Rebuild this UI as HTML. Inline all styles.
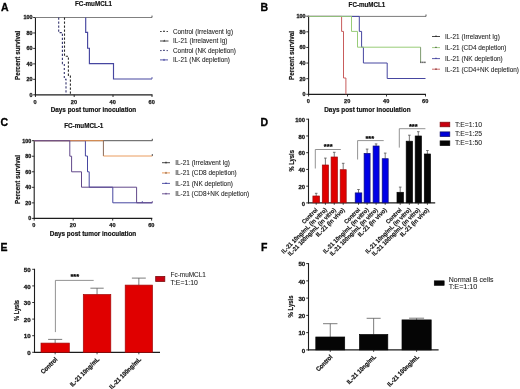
<!DOCTYPE html>
<html><head><meta charset="utf-8"><style>
html,body{margin:0;padding:0;background:#fff;width:520px;height:389px;overflow:hidden}
svg{display:block;filter:blur(0.25px)}
text{font-family:"Liberation Sans", sans-serif}
</style></head><body>
<svg width="520" height="389" viewBox="0 0 520 389">
<rect width="520" height="389" fill="#fff"/>
<text x="1" y="10.8" font-size="10.5" font-weight="bold" text-anchor="start" fill="#000" stroke="#000" stroke-width="0.3">A</text>
<text x="260.6" y="11" font-size="10.5" font-weight="bold" text-anchor="start" fill="#000" stroke="#000" stroke-width="0.3">B</text>
<text x="0.6" y="125.6" font-size="10.5" font-weight="bold" text-anchor="start" fill="#000" stroke="#000" stroke-width="0.3">C</text>
<text x="260.6" y="125.6" font-size="10.5" font-weight="bold" text-anchor="start" fill="#000" stroke="#000" stroke-width="0.3">D</text>
<text x="0.4" y="251.2" font-size="10.5" font-weight="bold" text-anchor="start" fill="#000" stroke="#000" stroke-width="0.3">E</text>
<text x="261" y="251.2" font-size="10.5" font-weight="bold" text-anchor="start" fill="#000" stroke="#000" stroke-width="0.3">F</text>
<line x1="35.45" y1="17.0" x2="35.45" y2="95.4" stroke="#1c1c1c" stroke-width="1.1"/>
<line x1="34.9" y1="94.8" x2="152.5" y2="94.8" stroke="#1c1c1c" stroke-width="1.2"/>
<line x1="33.15" y1="94.8" x2="35.45" y2="94.8" stroke="#1c1c1c" stroke-width="0.9"/>
<text x="32.45" y="96.75" font-size="5.4" font-weight="bold" text-anchor="end" fill="#1a1a1a" stroke="#1a1a1a" stroke-width="0.3">0</text>
<line x1="33.15" y1="79.34" x2="35.45" y2="79.34" stroke="#1c1c1c" stroke-width="0.9"/>
<text x="32.45" y="81.29" font-size="5.4" font-weight="bold" text-anchor="end" fill="#1a1a1a" stroke="#1a1a1a" stroke-width="0.3">20</text>
<line x1="33.15" y1="63.88" x2="35.45" y2="63.88" stroke="#1c1c1c" stroke-width="0.9"/>
<text x="32.45" y="65.83" font-size="5.4" font-weight="bold" text-anchor="end" fill="#1a1a1a" stroke="#1a1a1a" stroke-width="0.3">40</text>
<line x1="33.15" y1="48.42" x2="35.45" y2="48.42" stroke="#1c1c1c" stroke-width="0.9"/>
<text x="32.45" y="50.37" font-size="5.4" font-weight="bold" text-anchor="end" fill="#1a1a1a" stroke="#1a1a1a" stroke-width="0.3">60</text>
<line x1="33.15" y1="32.96" x2="35.45" y2="32.96" stroke="#1c1c1c" stroke-width="0.9"/>
<text x="32.45" y="34.91" font-size="5.4" font-weight="bold" text-anchor="end" fill="#1a1a1a" stroke="#1a1a1a" stroke-width="0.3">80</text>
<line x1="33.15" y1="17.5" x2="35.45" y2="17.5" stroke="#1c1c1c" stroke-width="0.9"/>
<text x="32.45" y="19.45" font-size="5.4" font-weight="bold" text-anchor="end" fill="#1a1a1a" stroke="#1a1a1a" stroke-width="0.3">100</text>
<line x1="35.45" y1="94.8" x2="35.45" y2="97.0" stroke="#1c1c1c" stroke-width="0.9"/>
<text x="35.15" y="103.8" font-size="5.6" font-weight="bold" text-anchor="middle" fill="#1a1a1a" stroke="#1a1a1a" stroke-width="0.25">0</text>
<line x1="74.2" y1="94.8" x2="74.2" y2="97.0" stroke="#1c1c1c" stroke-width="0.9"/>
<text x="73.9" y="103.8" font-size="5.6" font-weight="bold" text-anchor="middle" fill="#1a1a1a" stroke="#1a1a1a" stroke-width="0.25">20</text>
<line x1="113.0" y1="94.8" x2="113.0" y2="97.0" stroke="#1c1c1c" stroke-width="0.9"/>
<text x="112.7" y="103.8" font-size="5.6" font-weight="bold" text-anchor="middle" fill="#1a1a1a" stroke="#1a1a1a" stroke-width="0.25">40</text>
<line x1="152.0" y1="94.8" x2="152.0" y2="97.0" stroke="#1c1c1c" stroke-width="0.9"/>
<text x="151.7" y="103.8" font-size="5.6" font-weight="bold" text-anchor="middle" fill="#1a1a1a" stroke="#1a1a1a" stroke-width="0.25">60</text>
<text x="75" y="6.3" font-size="7" font-weight="bold" text-anchor="start" fill="#111" textLength="37" lengthAdjust="spacingAndGlyphs" stroke="#111" stroke-width="0.18">FC-muMCL1</text>
<text x="93.5" y="111.8" font-size="6.6" font-weight="bold" text-anchor="middle" fill="#111" textLength="85.5" lengthAdjust="spacingAndGlyphs" stroke="#111" stroke-width="0.18">Days post tumor inoculation</text>
<text transform="translate(19.7,55.3) rotate(-90)" font-size="6.6" font-weight="bold" text-anchor="middle" fill="#111" textLength="49.2" lengthAdjust="spacingAndGlyphs" stroke="#111" stroke-width="0.18">Percent survival</text>
<line x1="308.6" y1="15.7" x2="308.6" y2="94.9" stroke="#1c1c1c" stroke-width="1.1"/>
<line x1="308.05" y1="94.3" x2="426" y2="94.3" stroke="#1c1c1c" stroke-width="1.2"/>
<line x1="306.3" y1="94.3" x2="308.6" y2="94.3" stroke="#1c1c1c" stroke-width="0.9"/>
<text x="305.6" y="96.25" font-size="5.4" font-weight="bold" text-anchor="end" fill="#1a1a1a" stroke="#1a1a1a" stroke-width="0.3">0</text>
<line x1="306.3" y1="78.68" x2="308.6" y2="78.68" stroke="#1c1c1c" stroke-width="0.9"/>
<text x="305.6" y="80.63" font-size="5.4" font-weight="bold" text-anchor="end" fill="#1a1a1a" stroke="#1a1a1a" stroke-width="0.3">20</text>
<line x1="306.3" y1="63.06" x2="308.6" y2="63.06" stroke="#1c1c1c" stroke-width="0.9"/>
<text x="305.6" y="65.01" font-size="5.4" font-weight="bold" text-anchor="end" fill="#1a1a1a" stroke="#1a1a1a" stroke-width="0.3">40</text>
<line x1="306.3" y1="47.44" x2="308.6" y2="47.44" stroke="#1c1c1c" stroke-width="0.9"/>
<text x="305.6" y="49.39" font-size="5.4" font-weight="bold" text-anchor="end" fill="#1a1a1a" stroke="#1a1a1a" stroke-width="0.3">60</text>
<line x1="306.3" y1="31.82" x2="308.6" y2="31.82" stroke="#1c1c1c" stroke-width="0.9"/>
<text x="305.6" y="33.77" font-size="5.4" font-weight="bold" text-anchor="end" fill="#1a1a1a" stroke="#1a1a1a" stroke-width="0.3">80</text>
<line x1="306.3" y1="16.2" x2="308.6" y2="16.2" stroke="#1c1c1c" stroke-width="0.9"/>
<text x="305.6" y="18.15" font-size="5.4" font-weight="bold" text-anchor="end" fill="#1a1a1a" stroke="#1a1a1a" stroke-width="0.3">100</text>
<line x1="308.6" y1="94.3" x2="308.6" y2="96.5" stroke="#1c1c1c" stroke-width="0.9"/>
<text x="308.3" y="103.3" font-size="5.6" font-weight="bold" text-anchor="middle" fill="#1a1a1a" stroke="#1a1a1a" stroke-width="0.25">0</text>
<line x1="347.5" y1="94.3" x2="347.5" y2="96.5" stroke="#1c1c1c" stroke-width="0.9"/>
<text x="347.2" y="103.3" font-size="5.6" font-weight="bold" text-anchor="middle" fill="#1a1a1a" stroke="#1a1a1a" stroke-width="0.25">20</text>
<line x1="386.5" y1="94.3" x2="386.5" y2="96.5" stroke="#1c1c1c" stroke-width="0.9"/>
<text x="386.2" y="103.3" font-size="5.6" font-weight="bold" text-anchor="middle" fill="#1a1a1a" stroke="#1a1a1a" stroke-width="0.25">40</text>
<line x1="425.5" y1="94.3" x2="425.5" y2="96.5" stroke="#1c1c1c" stroke-width="0.9"/>
<text x="425.2" y="103.3" font-size="5.6" font-weight="bold" text-anchor="middle" fill="#1a1a1a" stroke="#1a1a1a" stroke-width="0.25">60</text>
<text x="348.6" y="6.8" font-size="7" font-weight="bold" text-anchor="start" fill="#111" textLength="36.6" lengthAdjust="spacingAndGlyphs" stroke="#111" stroke-width="0.18">FC-muMCL1</text>
<text x="367.4" y="111.8" font-size="6.6" font-weight="bold" text-anchor="middle" fill="#111" textLength="86.3" lengthAdjust="spacingAndGlyphs" stroke="#111" stroke-width="0.18">Days post tumor inoculation</text>
<text transform="translate(294.0,55.5) rotate(-90)" font-size="6.6" font-weight="bold" text-anchor="middle" fill="#111" textLength="49.2" lengthAdjust="spacingAndGlyphs" stroke="#111" stroke-width="0.18">Percent survival</text>
<line x1="34.2" y1="140.2" x2="34.2" y2="219.0" stroke="#1c1c1c" stroke-width="1.1"/>
<line x1="33.65" y1="218.4" x2="152.3" y2="218.4" stroke="#1c1c1c" stroke-width="1.2"/>
<line x1="31.9" y1="218.4" x2="34.2" y2="218.4" stroke="#1c1c1c" stroke-width="0.9"/>
<text x="31.2" y="220.35" font-size="5.4" font-weight="bold" text-anchor="end" fill="#1a1a1a" stroke="#1a1a1a" stroke-width="0.3">0</text>
<line x1="31.9" y1="202.86" x2="34.2" y2="202.86" stroke="#1c1c1c" stroke-width="0.9"/>
<text x="31.2" y="204.81" font-size="5.4" font-weight="bold" text-anchor="end" fill="#1a1a1a" stroke="#1a1a1a" stroke-width="0.3">20</text>
<line x1="31.9" y1="187.32" x2="34.2" y2="187.32" stroke="#1c1c1c" stroke-width="0.9"/>
<text x="31.2" y="189.27" font-size="5.4" font-weight="bold" text-anchor="end" fill="#1a1a1a" stroke="#1a1a1a" stroke-width="0.3">40</text>
<line x1="31.9" y1="171.78" x2="34.2" y2="171.78" stroke="#1c1c1c" stroke-width="0.9"/>
<text x="31.2" y="173.73" font-size="5.4" font-weight="bold" text-anchor="end" fill="#1a1a1a" stroke="#1a1a1a" stroke-width="0.3">60</text>
<line x1="31.9" y1="156.24" x2="34.2" y2="156.24" stroke="#1c1c1c" stroke-width="0.9"/>
<text x="31.2" y="158.19" font-size="5.4" font-weight="bold" text-anchor="end" fill="#1a1a1a" stroke="#1a1a1a" stroke-width="0.3">80</text>
<line x1="31.9" y1="140.7" x2="34.2" y2="140.7" stroke="#1c1c1c" stroke-width="0.9"/>
<text x="31.2" y="142.65" font-size="5.4" font-weight="bold" text-anchor="end" fill="#1a1a1a" stroke="#1a1a1a" stroke-width="0.3">100</text>
<line x1="34.2" y1="218.4" x2="34.2" y2="220.6" stroke="#1c1c1c" stroke-width="0.9"/>
<text x="33.9" y="227.4" font-size="5.6" font-weight="bold" text-anchor="middle" fill="#1a1a1a" stroke="#1a1a1a" stroke-width="0.25">0</text>
<line x1="73.2" y1="218.4" x2="73.2" y2="220.6" stroke="#1c1c1c" stroke-width="0.9"/>
<text x="72.9" y="227.4" font-size="5.6" font-weight="bold" text-anchor="middle" fill="#1a1a1a" stroke="#1a1a1a" stroke-width="0.25">20</text>
<line x1="112.7" y1="218.4" x2="112.7" y2="220.6" stroke="#1c1c1c" stroke-width="0.9"/>
<text x="112.4" y="227.4" font-size="5.6" font-weight="bold" text-anchor="middle" fill="#1a1a1a" stroke="#1a1a1a" stroke-width="0.25">40</text>
<line x1="151.6" y1="218.4" x2="151.6" y2="220.6" stroke="#1c1c1c" stroke-width="0.9"/>
<text x="151.3" y="227.4" font-size="5.6" font-weight="bold" text-anchor="middle" fill="#1a1a1a" stroke="#1a1a1a" stroke-width="0.25">60</text>
<text x="64.2" y="128.3" font-size="7" font-weight="bold" text-anchor="start" fill="#111" textLength="39.2" lengthAdjust="spacingAndGlyphs" stroke="#111" stroke-width="0.18">FC-muMCL-1</text>
<text x="93" y="235.8" font-size="6.6" font-weight="bold" text-anchor="middle" fill="#111" textLength="86.5" lengthAdjust="spacingAndGlyphs" stroke="#111" stroke-width="0.18">Days post tumor inoculation</text>
<text transform="translate(19.8,179.5) rotate(-90)" font-size="6.6" font-weight="bold" text-anchor="middle" fill="#111" textLength="49.2" lengthAdjust="spacingAndGlyphs" stroke="#111" stroke-width="0.18">Percent survival</text>
<path d="M35.2,17.5 H152" fill="none" stroke="#808080" stroke-width="1"/>
<path d="M152,17.5 V15.6" fill="none" stroke="#444" stroke-width="0.9"/>
<path d="M35.2,94.7" fill="none" stroke="#5a5a5a" stroke-width="1"/>
<path d="M58.7,17.5 V32.6 H62.4 V63.6 H64.3 V79.2 H66 V94.7" fill="none" stroke="#34346e" stroke-width="1.1" stroke-dasharray="2.2,1.8"/>
<path d="M64.5,17.5 V56.2 H68.4 V75.4 H70.4 V94.7" fill="none" stroke="#2a2a2a" stroke-width="1.1" stroke-dasharray="2.2,1.8"/>
<path d="M85.7,17.5 V32.3 H87.6 V48.2 H89.4 V63.6 H113.5 V79 H152" fill="none" stroke="#4646a0" stroke-width="1.15"/>
<path d="M152,79 V77" fill="none" stroke="#4646a0" stroke-width="0.8"/>
<path d="M308.6,16.4 H426" fill="none" stroke="#7a7a7a" stroke-width="1"/>
<path d="M426,16.4 V14.5" fill="none" stroke="#444" stroke-width="0.9"/>
<path d="M308.6,16.4 H341.6 V31.4 H343.5 V78 H345.9 V94.3" fill="none" stroke="#c85c5c" stroke-width="1"/>
<path d="M308.6,16.4 H359.3 V31.4 H361.6 V47.2 H363.4 V63 H387.2 V78.5 H425.5" fill="none" stroke="#4646a0" stroke-width="1"/>
<path d="M308.6,16.4 H351.5 V31.4 H357.5 V47.2 H420.6" fill="none" stroke="#98cc78" stroke-width="1"/>
<path d="M420.6,47.2 V62.2" fill="none" stroke="#6f8f60" stroke-width="0.9"/>
<rect x="420.3" y="61.6" width="1.2" height="1.5" fill="#333"/>
<rect x="422.3" y="61.6" width="1.2" height="1.5" fill="#333"/>
<rect x="424.3" y="61.6" width="1.2" height="1.5" fill="#333"/>
<path d="M34.2,140.7 H152.3" fill="none" stroke="#555" stroke-width="1"/>
<path d="M152.3,140.7 V138.8" fill="none" stroke="#333" stroke-width="0.9"/>
<path d="M34.2,140.7 H85.4 V156 H87.5 V171.8 H89.2 V187.2 H112.8 V202.8 H152.3" fill="none" stroke="#4646a0" stroke-width="1"/>
<path d="M142.3,202.8 V201" fill="none" stroke="#4646a0" stroke-width="0.8"/>
<path d="M34.2,140.7 H103.4" fill="none" stroke="#e8914c" stroke-width="1"/>
<path d="M103.4,140.7 V156" fill="none" stroke="#8a6a58" stroke-width="1"/>
<path d="M103.4,156 H152.3" fill="none" stroke="#e8914c" stroke-width="0.9"/>
<path d="M152.3,156 V154" fill="none" stroke="#444" stroke-width="0.9"/>
<path d="M34.2,140.7 H69.8 V156.2 H71.6 V171.8 H81.5 V187.2 H136.6 V202.8 H152.3" fill="none" stroke="#62488a" stroke-width="1"/>
<path d="M152.3,202.8 V201" fill="none" stroke="#62488a" stroke-width="0.8"/>
<path d="M160,31.5 H161.7 M166.5,31.5 H168" fill="none" stroke="#333" stroke-width="0.9"/>
<path d="M162.9,32.0 L164.0,30.1 L165.1,32.0 Z" fill="#333"/>
<text x="173" y="33.8" font-size="6.6" text-anchor="start" fill="#222" textLength="60" lengthAdjust="spacingAndGlyphs" stroke="#222" stroke-width="0.07">Control (Irrelavent Ig)</text>
<path d="M160,41.0 H168.5" fill="none" stroke="#333" stroke-width="0.9"/>
<path d="M163.15,41.5 L164.25,39.6 L165.35,41.5 Z" fill="#333"/>
<text x="173" y="43.3" font-size="6.6" text-anchor="start" fill="#222" textLength="54.5" lengthAdjust="spacingAndGlyphs" stroke="#222" stroke-width="0.07">IL-21 (Irrelavent Ig)</text>
<path d="M160,50.6 H161.7 M166.5,50.6 H168" fill="none" stroke="#34346e" stroke-width="0.9"/>
<path d="M162.9,51.1 L164.0,49.2 L165.1,51.1 Z" fill="#34346e"/>
<text x="173" y="52.9" font-size="6.6" text-anchor="start" fill="#222" textLength="63" lengthAdjust="spacingAndGlyphs" stroke="#222" stroke-width="0.07">Control (NK depletion)</text>
<path d="M160,59.9 H168" fill="none" stroke="#4646a0" stroke-width="0.9"/>
<path d="M162.9,60.4 L164.0,58.5 L165.1,60.4 Z" fill="#4646a0"/>
<text x="173" y="62.2" font-size="6.6" text-anchor="start" fill="#222" textLength="57" lengthAdjust="spacingAndGlyphs" stroke="#222" stroke-width="0.07">IL-21 (NK depletion)</text>
<path d="M432,36.5 H440" fill="none" stroke="#333" stroke-width="0.9"/>
<path d="M434.9,37.0 L436.0,35.1 L437.1,37.0 Z" fill="#333"/>
<text x="445" y="38.8" font-size="6.6" text-anchor="start" fill="#222" textLength="54.8" lengthAdjust="spacingAndGlyphs" stroke="#222" stroke-width="0.07">IL-21 (Irrelavent Ig)</text>
<path d="M432,47.6 H440" fill="none" stroke="#98cc78" stroke-width="0.9"/>
<path d="M434.9,48.1 L436.0,46.2 L437.1,48.1 Z" fill="#5a6a50"/>
<text x="445" y="49.9" font-size="6.6" text-anchor="start" fill="#222" textLength="61.5" lengthAdjust="spacingAndGlyphs" stroke="#222" stroke-width="0.07">IL-21 (CD4 depletion)</text>
<path d="M432,58.6 H440" fill="none" stroke="#4646a0" stroke-width="0.9"/>
<path d="M434.9,59.1 L436.0,57.2 L437.1,59.1 Z" fill="#4646a0"/>
<text x="445" y="60.9" font-size="6.6" text-anchor="start" fill="#222" textLength="57.7" lengthAdjust="spacingAndGlyphs" stroke="#222" stroke-width="0.07">IL-21 (NK depletion)</text>
<path d="M432,69.2 H440" fill="none" stroke="#c85c5c" stroke-width="0.9"/>
<path d="M434.9,69.7 L436.0,67.8 L437.1,69.7 Z" fill="#8a3a3a"/>
<text x="445" y="71.5" font-size="6.6" text-anchor="start" fill="#222" textLength="74" lengthAdjust="spacingAndGlyphs" stroke="#222" stroke-width="0.07">IL-21 (CD4+NK depletion)</text>
<path d="M162,162.7 H170" fill="none" stroke="#333" stroke-width="0.9"/>
<path d="M164.9,163.2 L166.0,161.3 L167.1,163.2 Z" fill="#333"/>
<text x="175.2" y="165.0" font-size="6.6" text-anchor="start" fill="#222" textLength="54.8" lengthAdjust="spacingAndGlyphs" stroke="#222" stroke-width="0.07">IL-21 (Irrelavent Ig)</text>
<path d="M162,172.9 H170" fill="none" stroke="#e8914c" stroke-width="0.9"/>
<path d="M164.9,173.4 L166.0,171.5 L167.1,173.4 Z" fill="#8a6040"/>
<text x="175.2" y="175.2" font-size="6.6" text-anchor="start" fill="#222" textLength="61.5" lengthAdjust="spacingAndGlyphs" stroke="#222" stroke-width="0.07">IL-21 (CD8 depletion)</text>
<path d="M162,183.4 H170" fill="none" stroke="#4646a0" stroke-width="0.9"/>
<path d="M164.9,183.9 L166.0,182.0 L167.1,183.9 Z" fill="#4646a0"/>
<text x="175.2" y="185.7" font-size="6.6" text-anchor="start" fill="#222" textLength="57.7" lengthAdjust="spacingAndGlyphs" stroke="#222" stroke-width="0.07">IL-21 (NK depletion)</text>
<path d="M162,193.8 H170" fill="none" stroke="#62488a" stroke-width="0.9"/>
<path d="M164.9,194.3 L166.0,192.4 L167.1,194.3 Z" fill="#62488a"/>
<text x="175.2" y="196.1" font-size="6.6" text-anchor="start" fill="#222" textLength="74" lengthAdjust="spacingAndGlyphs" stroke="#222" stroke-width="0.07">IL-21 (CD8+NK depletion)</text>
<line x1="308.5" y1="118.7" x2="308.5" y2="203.5" stroke="#1c1c1c" stroke-width="1.1"/>
<line x1="307.95" y1="202.9" x2="435.2" y2="202.9" stroke="#1c1c1c" stroke-width="1.3"/>
<line x1="306.2" y1="202.9" x2="308.5" y2="202.9" stroke="#1c1c1c" stroke-width="0.9"/>
<text x="305.0" y="205.52" font-size="5.9" font-weight="bold" text-anchor="end" fill="#1a1a1a" stroke="#1a1a1a" stroke-width="0.3">0</text>
<line x1="306.2" y1="186.16" x2="308.5" y2="186.16" stroke="#1c1c1c" stroke-width="0.9"/>
<text x="305.0" y="188.78" font-size="5.9" font-weight="bold" text-anchor="end" fill="#1a1a1a" stroke="#1a1a1a" stroke-width="0.3">20</text>
<line x1="306.2" y1="169.42" x2="308.5" y2="169.42" stroke="#1c1c1c" stroke-width="0.9"/>
<text x="305.0" y="172.04" font-size="5.9" font-weight="bold" text-anchor="end" fill="#1a1a1a" stroke="#1a1a1a" stroke-width="0.3">40</text>
<line x1="306.2" y1="152.68" x2="308.5" y2="152.68" stroke="#1c1c1c" stroke-width="0.9"/>
<text x="305.0" y="155.3" font-size="5.9" font-weight="bold" text-anchor="end" fill="#1a1a1a" stroke="#1a1a1a" stroke-width="0.3">60</text>
<line x1="306.2" y1="135.94" x2="308.5" y2="135.94" stroke="#1c1c1c" stroke-width="0.9"/>
<text x="305.0" y="138.56" font-size="5.9" font-weight="bold" text-anchor="end" fill="#1a1a1a" stroke="#1a1a1a" stroke-width="0.3">80</text>
<line x1="306.2" y1="119.2" x2="308.5" y2="119.2" stroke="#1c1c1c" stroke-width="0.9"/>
<text x="305.0" y="121.82" font-size="5.9" font-weight="bold" text-anchor="end" fill="#1a1a1a" stroke="#1a1a1a" stroke-width="0.3">100</text>
<text transform="translate(294.0,160.8) rotate(-90)" font-size="6.6" font-weight="bold" text-anchor="middle" fill="#111" textLength="21.6" lengthAdjust="spacingAndGlyphs" stroke="#111" stroke-width="0.18">% Lysis</text>
<line x1="316.2" y1="196" x2="316.2" y2="193.3" stroke="#555" stroke-width="0.8"/>
<line x1="314.9" y1="193.3" x2="317.5" y2="193.3" stroke="#555" stroke-width="0.8"/>
<rect x="312.9" y="196" width="6.6" height="6.8" fill="#e00000" stroke="#9a0c0c" stroke-width="0.7"/>
<line x1="316.2" y1="202.8" x2="316.2" y2="204.8" stroke="#1c1c1c" stroke-width="0.8"/>
<text transform="translate(318.2,210.3) rotate(-45)" font-size="6.2" font-weight="bold" text-anchor="end" fill="#111" textLength="19.8" lengthAdjust="spacingAndGlyphs" stroke="#111" stroke-width="0.14">Control</text>
<line x1="325.4" y1="165" x2="325.4" y2="158.1" stroke="#555" stroke-width="0.8"/>
<line x1="324.1" y1="158.1" x2="326.7" y2="158.1" stroke="#555" stroke-width="0.8"/>
<rect x="322.3" y="165" width="6.2" height="37.8" fill="#e00000" stroke="#9a0c0c" stroke-width="0.7"/>
<line x1="325.4" y1="202.8" x2="325.4" y2="204.8" stroke="#1c1c1c" stroke-width="0.8"/>
<text transform="translate(327.4,210.3) rotate(-45)" font-size="6.2" font-weight="bold" text-anchor="end" fill="#111" textLength="61.7" lengthAdjust="spacingAndGlyphs" stroke="#111" stroke-width="0.14">IL-21 10ng/mL (in vitro)</text>
<line x1="334.25" y1="157" x2="334.25" y2="152.3" stroke="#555" stroke-width="0.8"/>
<line x1="332.95" y1="152.3" x2="335.55" y2="152.3" stroke="#555" stroke-width="0.8"/>
<rect x="331.1" y="157" width="6.3" height="45.8" fill="#e00000" stroke="#9a0c0c" stroke-width="0.7"/>
<line x1="334.25" y1="202.8" x2="334.25" y2="204.8" stroke="#1c1c1c" stroke-width="0.8"/>
<text transform="translate(336.25,210.3) rotate(-45)" font-size="6.2" font-weight="bold" text-anchor="end" fill="#111" textLength="65.0" lengthAdjust="spacingAndGlyphs" stroke="#111" stroke-width="0.14">IL-21 100ng/mL (in vitro)</text>
<line x1="343.2" y1="169.7" x2="343.2" y2="163.3" stroke="#555" stroke-width="0.8"/>
<line x1="341.9" y1="163.3" x2="344.5" y2="163.3" stroke="#555" stroke-width="0.8"/>
<rect x="340.2" y="169.7" width="6.0" height="33.1" fill="#e00000" stroke="#9a0c0c" stroke-width="0.7"/>
<line x1="343.2" y1="202.8" x2="343.2" y2="204.8" stroke="#1c1c1c" stroke-width="0.8"/>
<text transform="translate(345.2,210.3) rotate(-45)" font-size="6.2" font-weight="bold" text-anchor="end" fill="#111" textLength="38.0" lengthAdjust="spacingAndGlyphs" stroke="#111" stroke-width="0.14">IL-21 (in vivo)</text>
<line x1="358.5" y1="192.9" x2="358.5" y2="189.5" stroke="#555" stroke-width="0.8"/>
<line x1="357.2" y1="189.5" x2="359.8" y2="189.5" stroke="#555" stroke-width="0.8"/>
<rect x="355.2" y="192.9" width="6.6" height="9.9" fill="#0000e6" stroke="#101070" stroke-width="0.7"/>
<line x1="358.5" y1="202.8" x2="358.5" y2="204.8" stroke="#1c1c1c" stroke-width="0.8"/>
<text transform="translate(360.5,210.3) rotate(-45)" font-size="6.2" font-weight="bold" text-anchor="end" fill="#111" textLength="19.8" lengthAdjust="spacingAndGlyphs" stroke="#111" stroke-width="0.14">Control</text>
<line x1="367.1" y1="153.4" x2="367.1" y2="149.1" stroke="#555" stroke-width="0.8"/>
<line x1="365.8" y1="149.1" x2="368.4" y2="149.1" stroke="#555" stroke-width="0.8"/>
<rect x="364.1" y="153.4" width="6.0" height="49.4" fill="#0000e6" stroke="#101070" stroke-width="0.7"/>
<line x1="367.1" y1="202.8" x2="367.1" y2="204.8" stroke="#1c1c1c" stroke-width="0.8"/>
<text transform="translate(369.1,210.3) rotate(-45)" font-size="6.2" font-weight="bold" text-anchor="end" fill="#111" textLength="61.7" lengthAdjust="spacingAndGlyphs" stroke="#111" stroke-width="0.14">IL-21 10ng/mL (in vitro)</text>
<line x1="376.1" y1="146" x2="376.1" y2="143.9" stroke="#555" stroke-width="0.8"/>
<line x1="374.8" y1="143.9" x2="377.4" y2="143.9" stroke="#555" stroke-width="0.8"/>
<rect x="373.1" y="146" width="6.0" height="56.8" fill="#0000e6" stroke="#101070" stroke-width="0.7"/>
<line x1="376.1" y1="202.8" x2="376.1" y2="204.8" stroke="#1c1c1c" stroke-width="0.8"/>
<text transform="translate(378.1,210.3) rotate(-45)" font-size="6.2" font-weight="bold" text-anchor="end" fill="#111" textLength="65.0" lengthAdjust="spacingAndGlyphs" stroke="#111" stroke-width="0.14">IL-21 100ng/mL (in vitro)</text>
<line x1="385.2" y1="158.7" x2="385.2" y2="153.1" stroke="#555" stroke-width="0.8"/>
<line x1="383.9" y1="153.1" x2="386.5" y2="153.1" stroke="#555" stroke-width="0.8"/>
<rect x="382.2" y="158.7" width="6.0" height="44.1" fill="#0000e6" stroke="#101070" stroke-width="0.7"/>
<line x1="385.2" y1="202.8" x2="385.2" y2="204.8" stroke="#1c1c1c" stroke-width="0.8"/>
<text transform="translate(387.2,210.3) rotate(-45)" font-size="6.2" font-weight="bold" text-anchor="end" fill="#111" textLength="38.0" lengthAdjust="spacingAndGlyphs" stroke="#111" stroke-width="0.14">IL-21 (in vivo)</text>
<line x1="400.2" y1="192.3" x2="400.2" y2="187.1" stroke="#555" stroke-width="0.8"/>
<line x1="398.9" y1="187.1" x2="401.5" y2="187.1" stroke="#555" stroke-width="0.8"/>
<rect x="397" y="192.3" width="6.4" height="10.5" fill="#050505" stroke="#050505" stroke-width="0.7"/>
<line x1="400.2" y1="202.8" x2="400.2" y2="204.8" stroke="#1c1c1c" stroke-width="0.8"/>
<text transform="translate(402.2,210.3) rotate(-45)" font-size="6.2" font-weight="bold" text-anchor="end" fill="#111" textLength="19.8" lengthAdjust="spacingAndGlyphs" stroke="#111" stroke-width="0.14">Control</text>
<line x1="409.35" y1="141.2" x2="409.35" y2="135.2" stroke="#555" stroke-width="0.8"/>
<line x1="408.05" y1="135.2" x2="410.65" y2="135.2" stroke="#555" stroke-width="0.8"/>
<rect x="406.2" y="141.2" width="6.3" height="61.6" fill="#050505" stroke="#050505" stroke-width="0.7"/>
<line x1="409.35" y1="202.8" x2="409.35" y2="204.8" stroke="#1c1c1c" stroke-width="0.8"/>
<text transform="translate(411.35,210.3) rotate(-45)" font-size="6.2" font-weight="bold" text-anchor="end" fill="#111" textLength="61.7" lengthAdjust="spacingAndGlyphs" stroke="#111" stroke-width="0.14">IL-21 10ng/mL (in vitro)</text>
<line x1="418.3" y1="136" x2="418.3" y2="131.7" stroke="#555" stroke-width="0.8"/>
<line x1="417" y1="131.7" x2="419.6" y2="131.7" stroke="#555" stroke-width="0.8"/>
<rect x="415.2" y="136" width="6.2" height="66.8" fill="#050505" stroke="#050505" stroke-width="0.7"/>
<line x1="418.3" y1="202.8" x2="418.3" y2="204.8" stroke="#1c1c1c" stroke-width="0.8"/>
<text transform="translate(420.3,210.3) rotate(-45)" font-size="6.2" font-weight="bold" text-anchor="end" fill="#111" textLength="65.0" lengthAdjust="spacingAndGlyphs" stroke="#111" stroke-width="0.14">IL-21 100ng/mL (in vitro)</text>
<line x1="427.4" y1="154" x2="427.4" y2="150.5" stroke="#555" stroke-width="0.8"/>
<line x1="426.1" y1="150.5" x2="428.7" y2="150.5" stroke="#555" stroke-width="0.8"/>
<rect x="424.3" y="154" width="6.2" height="48.8" fill="#050505" stroke="#050505" stroke-width="0.7"/>
<line x1="427.4" y1="202.8" x2="427.4" y2="204.8" stroke="#1c1c1c" stroke-width="0.8"/>
<text transform="translate(429.4,210.3) rotate(-45)" font-size="6.2" font-weight="bold" text-anchor="end" fill="#111" textLength="38.0" lengthAdjust="spacingAndGlyphs" stroke="#111" stroke-width="0.14">IL-21 (in vivo)</text>
<path d="M315.3,168.5 V149.5 H340.8" fill="none" stroke="#777" stroke-width="0.8"/>
<text x="328.2" y="149.4" font-size="7.5" font-weight="bold" text-anchor="middle" fill="#000" stroke="#000" stroke-width="0.25">***</text>
<path d="M357.6,159.5 V140.6 H383.7" fill="none" stroke="#777" stroke-width="0.8"/>
<text x="369.8" y="140.7" font-size="7.5" font-weight="bold" text-anchor="middle" fill="#000" stroke="#000" stroke-width="0.25">***</text>
<path d="M399.3,147.6 V128.7 H425.4" fill="none" stroke="#777" stroke-width="0.8"/>
<text x="413.3" y="128.7" font-size="7.5" font-weight="bold" text-anchor="middle" fill="#000" stroke="#000" stroke-width="0.25">***</text>
<rect x="440.1" y="122.2" width="9.7" height="4.6" fill="#c80010" stroke="#7a0a0a" stroke-width="0.7"/>
<text x="454.9" y="126.6" font-size="7.2" text-anchor="start" fill="#222" textLength="27.2" lengthAdjust="spacingAndGlyphs" stroke="#222" stroke-width="0.07">T:E=1:10</text>
<rect x="440.1" y="131.9" width="9.7" height="4.6" fill="#0000d8" stroke="#0a0a60" stroke-width="0.7"/>
<text x="454.9" y="136.3" font-size="7.2" text-anchor="start" fill="#222" textLength="27.2" lengthAdjust="spacingAndGlyphs" stroke="#222" stroke-width="0.07">T:E=1:25</text>
<rect x="440.1" y="140.9" width="9.7" height="4.6" fill="#050505" stroke="#050505" stroke-width="0.7"/>
<text x="454.9" y="144.8" font-size="7.2" text-anchor="start" fill="#222" textLength="27.2" lengthAdjust="spacingAndGlyphs" stroke="#222" stroke-width="0.07">T:E=1:50</text>
<line x1="34.5" y1="268.8" x2="34.5" y2="352.9" stroke="#1c1c1c" stroke-width="1.1"/>
<line x1="33.95" y1="352.3" x2="160" y2="352.3" stroke="#1c1c1c" stroke-width="1.3"/>
<line x1="32.2" y1="352.3" x2="34.5" y2="352.3" stroke="#1c1c1c" stroke-width="0.9"/>
<text x="30.6" y="355.03" font-size="6.2" font-weight="bold" text-anchor="end" fill="#1a1a1a" stroke="#1a1a1a" stroke-width="0.3">0</text>
<line x1="32.2" y1="335.7" x2="34.5" y2="335.7" stroke="#1c1c1c" stroke-width="0.9"/>
<text x="30.6" y="338.43" font-size="6.2" font-weight="bold" text-anchor="end" fill="#1a1a1a" stroke="#1a1a1a" stroke-width="0.3">10</text>
<line x1="32.2" y1="319.1" x2="34.5" y2="319.1" stroke="#1c1c1c" stroke-width="0.9"/>
<text x="30.6" y="321.83" font-size="6.2" font-weight="bold" text-anchor="end" fill="#1a1a1a" stroke="#1a1a1a" stroke-width="0.3">20</text>
<line x1="32.2" y1="302.5" x2="34.5" y2="302.5" stroke="#1c1c1c" stroke-width="0.9"/>
<text x="30.6" y="305.23" font-size="6.2" font-weight="bold" text-anchor="end" fill="#1a1a1a" stroke="#1a1a1a" stroke-width="0.3">30</text>
<line x1="32.2" y1="285.9" x2="34.5" y2="285.9" stroke="#1c1c1c" stroke-width="0.9"/>
<text x="30.6" y="288.63" font-size="6.2" font-weight="bold" text-anchor="end" fill="#1a1a1a" stroke="#1a1a1a" stroke-width="0.3">40</text>
<line x1="32.2" y1="269.3" x2="34.5" y2="269.3" stroke="#1c1c1c" stroke-width="0.9"/>
<text x="30.6" y="272.03" font-size="6.2" font-weight="bold" text-anchor="end" fill="#1a1a1a" stroke="#1a1a1a" stroke-width="0.3">50</text>
<text transform="translate(18.7,310.5) rotate(-90)" font-size="6.5" font-weight="bold" text-anchor="middle" fill="#111" textLength="21.1" lengthAdjust="spacingAndGlyphs" stroke="#111" stroke-width="0.18">% Lysis</text>
<line x1="55.15" y1="343.1" x2="55.15" y2="339.4" stroke="#5a5a5a" stroke-width="0.8"/>
<line x1="48.1" y1="339.4" x2="62.2" y2="339.4" stroke="#5a5a5a" stroke-width="0.8"/>
<rect x="41" y="343.1" width="28.3" height="9.2" fill="#e00000" stroke="#a00a0a" stroke-width="0.7"/>
<line x1="55.15" y1="352.3" x2="55.15" y2="354.3" stroke="#1c1c1c" stroke-width="0.8"/>
<line x1="97.05" y1="294.5" x2="97.05" y2="288.2" stroke="#5a5a5a" stroke-width="0.8"/>
<line x1="90.4" y1="288.2" x2="103.7" y2="288.2" stroke="#5a5a5a" stroke-width="0.8"/>
<rect x="83.3" y="294.5" width="27.5" height="57.8" fill="#e00000" stroke="#a00a0a" stroke-width="0.7"/>
<line x1="97.05" y1="352.3" x2="97.05" y2="354.3" stroke="#1c1c1c" stroke-width="0.8"/>
<line x1="138.85" y1="285.1" x2="138.85" y2="278.1" stroke="#5a5a5a" stroke-width="0.8"/>
<line x1="131.9" y1="278.1" x2="145.8" y2="278.1" stroke="#5a5a5a" stroke-width="0.8"/>
<rect x="125.2" y="285.1" width="27.3" height="67.2" fill="#e00000" stroke="#a00a0a" stroke-width="0.7"/>
<line x1="138.85" y1="352.3" x2="138.85" y2="354.3" stroke="#1c1c1c" stroke-width="0.8"/>
<path d="M55.4,332.1 V280.4 H93.7" fill="none" stroke="#777" stroke-width="0.8"/>
<text x="74.8" y="279.1" font-size="7.5" font-weight="bold" text-anchor="middle" fill="#000" stroke="#000" stroke-width="0.25">***</text>
<rect x="155.7" y="276.5" width="9.1" height="4.9" fill="#c80010" stroke="#7a0a0a" stroke-width="0.8"/>
<text x="170.5" y="277.1" font-size="6.6" text-anchor="start" fill="#222" textLength="35.4" lengthAdjust="spacingAndGlyphs" stroke="#222" stroke-width="0.07">Fc-muMCL1</text>
<text x="170.5" y="284.9" font-size="6.6" text-anchor="start" fill="#222" textLength="27.3" lengthAdjust="spacingAndGlyphs" stroke="#222" stroke-width="0.07">T:E=1:10</text>
<text transform="translate(57.9,359.8) rotate(-45)" font-size="6.4" font-weight="bold" text-anchor="end" fill="#111" textLength="20.6" lengthAdjust="spacingAndGlyphs" stroke="#111" stroke-width="0.22">Control</text>
<text transform="translate(99.7,359.8) rotate(-45)" font-size="6.4" font-weight="bold" text-anchor="end" fill="#111" textLength="38.5" lengthAdjust="spacingAndGlyphs" stroke="#111" stroke-width="0.22">IL-21 10ng/mL</text>
<text transform="translate(141.5,359.8) rotate(-45)" font-size="6.4" font-weight="bold" text-anchor="end" fill="#111" textLength="42.0" lengthAdjust="spacingAndGlyphs" stroke="#111" stroke-width="0.22">IL-21 100ng/mL</text>
<line x1="308.5" y1="263.1" x2="308.5" y2="350.5" stroke="#1c1c1c" stroke-width="1.1"/>
<line x1="307.95" y1="349.9" x2="438.6" y2="349.9" stroke="#1c1c1c" stroke-width="1.3"/>
<line x1="306.2" y1="349.9" x2="308.5" y2="349.9" stroke="#1c1c1c" stroke-width="0.9"/>
<text x="305.3" y="352.63" font-size="6.2" font-weight="bold" text-anchor="end" fill="#1a1a1a" stroke="#1a1a1a" stroke-width="0.3">0</text>
<line x1="306.2" y1="332.64" x2="308.5" y2="332.64" stroke="#1c1c1c" stroke-width="0.9"/>
<text x="305.3" y="335.37" font-size="6.2" font-weight="bold" text-anchor="end" fill="#1a1a1a" stroke="#1a1a1a" stroke-width="0.3">10</text>
<line x1="306.2" y1="315.38" x2="308.5" y2="315.38" stroke="#1c1c1c" stroke-width="0.9"/>
<text x="305.3" y="318.11" font-size="6.2" font-weight="bold" text-anchor="end" fill="#1a1a1a" stroke="#1a1a1a" stroke-width="0.3">20</text>
<line x1="306.2" y1="298.12" x2="308.5" y2="298.12" stroke="#1c1c1c" stroke-width="0.9"/>
<text x="305.3" y="300.85" font-size="6.2" font-weight="bold" text-anchor="end" fill="#1a1a1a" stroke="#1a1a1a" stroke-width="0.3">30</text>
<line x1="306.2" y1="280.86" x2="308.5" y2="280.86" stroke="#1c1c1c" stroke-width="0.9"/>
<text x="305.3" y="283.59" font-size="6.2" font-weight="bold" text-anchor="end" fill="#1a1a1a" stroke="#1a1a1a" stroke-width="0.3">40</text>
<line x1="306.2" y1="263.6" x2="308.5" y2="263.6" stroke="#1c1c1c" stroke-width="0.9"/>
<text x="305.3" y="266.33" font-size="6.2" font-weight="bold" text-anchor="end" fill="#1a1a1a" stroke="#1a1a1a" stroke-width="0.3">50</text>
<text transform="translate(293.3,306.5) rotate(-90)" font-size="6.6" font-weight="bold" text-anchor="middle" fill="#111" textLength="22.0" lengthAdjust="spacingAndGlyphs" stroke="#111" stroke-width="0.18">% Lysis</text>
<line x1="330.25" y1="337" x2="330.25" y2="323.7" stroke="#5a5a5a" stroke-width="0.8"/>
<line x1="323.05" y1="323.7" x2="337.45" y2="323.7" stroke="#5a5a5a" stroke-width="0.8"/>
<rect x="315.8" y="337" width="28.9" height="12.9" fill="#050505" stroke="#050505" stroke-width="0.7"/>
<line x1="330.25" y1="349.9" x2="330.25" y2="351.9" stroke="#1c1c1c" stroke-width="0.8"/>
<line x1="373.65" y1="334.5" x2="373.65" y2="318.3" stroke="#5a5a5a" stroke-width="0.8"/>
<line x1="366.65" y1="318.3" x2="380.65" y2="318.3" stroke="#5a5a5a" stroke-width="0.8"/>
<rect x="359.5" y="334.5" width="28.3" height="15.4" fill="#050505" stroke="#050505" stroke-width="0.7"/>
<line x1="373.65" y1="349.9" x2="373.65" y2="351.9" stroke="#1c1c1c" stroke-width="0.8"/>
<line x1="416.6" y1="319.9" x2="416.6" y2="318.2" stroke="#5a5a5a" stroke-width="0.8"/>
<line x1="409.1" y1="318.2" x2="424.1" y2="318.2" stroke="#5a5a5a" stroke-width="0.8"/>
<rect x="402" y="319.9" width="29.2" height="30.0" fill="#050505" stroke="#050505" stroke-width="0.7"/>
<line x1="416.6" y1="349.9" x2="416.6" y2="351.9" stroke="#1c1c1c" stroke-width="0.8"/>
<rect x="434.2" y="280.8" width="10" height="4.7" fill="#050505" stroke="#050505" stroke-width="0.5"/>
<text x="448.8" y="281.5" font-size="6.8" text-anchor="start" fill="#222" textLength="44.7" lengthAdjust="spacingAndGlyphs" stroke="#222" stroke-width="0.07">Normal B cells</text>
<text x="448.8" y="288.8" font-size="6.8" text-anchor="start" fill="#222" textLength="28.5" lengthAdjust="spacingAndGlyphs" stroke="#222" stroke-width="0.07">T:E=1:10</text>
<text transform="translate(333.0,357.3) rotate(-45)" font-size="6.4" font-weight="bold" text-anchor="end" fill="#111" textLength="20.6" lengthAdjust="spacingAndGlyphs" stroke="#111" stroke-width="0.22">Control</text>
<text transform="translate(376.4,357.3) rotate(-45)" font-size="6.4" font-weight="bold" text-anchor="end" fill="#111" textLength="38.5" lengthAdjust="spacingAndGlyphs" stroke="#111" stroke-width="0.22">IL-21 10ng/mL</text>
<text transform="translate(419.4,357.3) rotate(-45)" font-size="6.4" font-weight="bold" text-anchor="end" fill="#111" textLength="42.0" lengthAdjust="spacingAndGlyphs" stroke="#111" stroke-width="0.22">IL-21 100ng/mL</text>
</svg>
</body></html>
